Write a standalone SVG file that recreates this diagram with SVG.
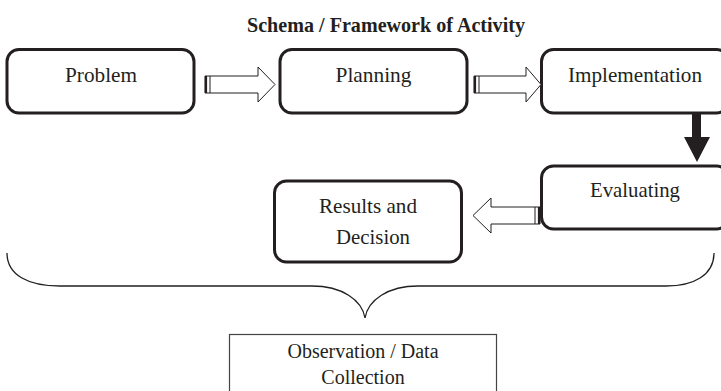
<svg xmlns="http://www.w3.org/2000/svg" width="721" height="391" viewBox="0 0 721 391">
<style>
.box{fill:#fff;stroke:#231f20;stroke-width:3}
.obs{fill:#fff;stroke:#444;stroke-width:1.2}
.lbl{font-family:"Liberation Serif","Times New Roman",serif;font-size:22px;fill:#231f20;text-anchor:middle}
.small{font-size:20px}
.title{font-family:"Liberation Serif","Times New Roman",serif;font-size:21px;font-weight:bold;fill:#231f20;text-anchor:middle}
.hollow{fill:#fff;stroke:#231f20;stroke-width:1}
.bar{stroke:#231f20}
.brace{fill:none;stroke:#231f20;stroke-width:1.3}
</style>
<rect width="721" height="391" fill="#fff"/>
<text class="title" x="386" y="32" textLength="278" lengthAdjust="spacingAndGlyphs">Schema / Framework of Activity</text>

<g id="problem">
<rect class="box" x="7" y="49.5" width="187" height="63.5" rx="12"/>
<text class="lbl" x="101" y="82" textLength="72" lengthAdjust="spacingAndGlyphs">Problem</text>
</g>
<g id="planning">
<rect class="box" x="280" y="49.5" width="187" height="63.5" rx="12"/>
<text class="lbl" x="373.5" y="82" textLength="76" lengthAdjust="spacingAndGlyphs">Planning</text>
</g>
<g id="implementation">
<rect class="box" x="541.5" y="49.5" width="187" height="63.5" rx="12"/>
<text class="lbl" x="635" y="82" textLength="134" lengthAdjust="spacingAndGlyphs">Implementation</text>
</g>
<g id="evaluating">
<rect class="box" x="541.5" y="166" width="187" height="63" rx="12"/>
<text class="lbl" x="635" y="197" textLength="90" lengthAdjust="spacingAndGlyphs">Evaluating</text>
</g>
<g id="results">
<rect class="box" x="274.5" y="181" width="187" height="81" rx="12"/>
<text class="lbl" x="368" y="213" textLength="98" lengthAdjust="spacingAndGlyphs">Results and</text>
<text class="lbl" x="373" y="244" textLength="74" lengthAdjust="spacingAndGlyphs">Decision</text>
</g>
<g id="observation">
<rect class="obs" x="229.5" y="334.5" width="267" height="70"/>
<text class="lbl small" x="363" y="358">Observation / Data</text>
<text class="lbl small" x="363" y="384">Collection</text>
</g>

<g id="connectors">
<path class="hollow" d="M205,76 H258 V67 L275,84.5 L258,102 V93 H205 Z"/>
<line class="bar" x1="206" y1="76" x2="206" y2="93" stroke-width="2.2"/>
<line class="bar" x1="210" y1="76" x2="210" y2="93" stroke-width="1"/>

<path class="hollow" d="M474,76 H526 V67 L541,84.5 L526,102 V93 H474 Z"/>
<line class="bar" x1="475" y1="76" x2="475" y2="93" stroke-width="2.2"/>
<line class="bar" x1="479" y1="76" x2="479" y2="93" stroke-width="1"/>

<path d="M692,113 H701 V137 H710 L697,162 L684,137 H692 Z" fill="#231f20"/>

<path class="hollow" d="M540,207 H491 V198 L473,215.5 L491,233 V224 H540 Z"/>
<line class="bar" x1="539" y1="207" x2="539" y2="224" stroke-width="2.2"/>
<line class="bar" x1="535" y1="207" x2="535" y2="224" stroke-width="1"/>

<path class="brace" d="M7,253 C7,275 28,286 60,286 H312 C342,286 362,300 365,318 C368,300 388,286 418,286 H666 C694,286 714,275 714,253"/>
</g>
</svg>
